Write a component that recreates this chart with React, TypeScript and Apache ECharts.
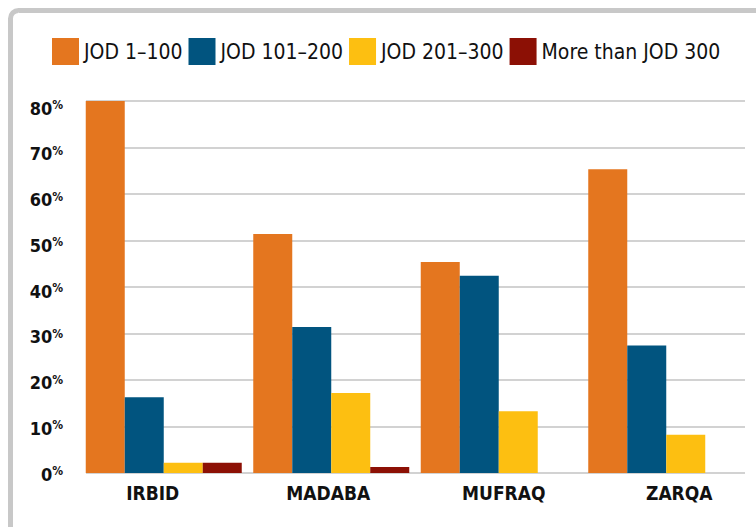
import React, { useEffect, useRef } from "react";
import * as echarts from "echarts";

const categories = ["IRBID", "MADABA", "MUFRAQ", "ZARQA"];
const seriesNames = ["JOD 1–100", "JOD 101–200", "JOD 201–300", "More than JOD 300"];
const jod1to100 = [80.0, 51.4, 45.4, 65.3];
const jod101to200 = [16.3, 31.4, 42.4, 27.4];
const jod201to300 = [2.2, 17.2, 13.3, 8.2];
const jodOver300 = [2.2, 1.3, null, null];
const yTicks = [0, 10, 20, 30, 40, 50, 60, 70, 80];

const colors = ["#E4761F", "#01547F", "#FDBF11", "#8C1005"];

export default function App() {
  const ref = useRef<HTMLDivElement>(null);
  useEffect(() => {
    if (!ref.current) return;
    const chart = echarts.init(ref.current, undefined, { renderer: "svg" });
    const values = [jod1to100, jod101to200, jod201to300, jodOver300];
    const yMax = yTicks[yTicks.length - 1];
    const yInterval = yTicks[1] - yTicks[0];
    const labelPads = [
      [0, 22, 0, 0],
      [0, 6, 0, 0],
      [0, 0, 0, 10],
      [0, 0, 0, 26],
    ];
    const rich: any = {};
    labelPads.forEach((p, i) => {
      rich["c" + i] = {
        padding: p,
        fontFamily: "'DejaVu Sans Condensed', sans-serif",
        fontWeight: "bold",
        fontSize: 19,
        color: "#111",
      };
    });
    chart.setOption({
      animation: false,
      backgroundColor: "#ffffff",
      color: colors,
      graphic: [
        {
          type: "rect",
          shape: { x: 10.5, y: 10.5, width: 820, height: 620, r: 8 },
          style: { fill: null, stroke: "#c8c8c8", lineWidth: 5 },
          z: 10,
        },
      ],
      legend: {
        left: 52,
        top: 38,
        padding: 0,
        itemWidth: 27,
        itemHeight: 27,
        itemGap: 6,
        icon: "rect",
        data: seriesNames,
        textStyle: {
          fontFamily: "'DejaVu Sans Condensed', sans-serif",
          fontSize: 21,
          color: "#111",
        },
      },
      grid: [
        { left: 80, right: 6, top: 101, bottom: 54 },
        { left: 86, right: 11, top: 101, bottom: 54 },
        { left: 70, right: 11, top: 108, height: 366 },
      ],
      xAxis: [
        {
          type: "category",
          gridIndex: 0,
          data: categories,
          axisLine: { show: false },
          axisTick: { show: false },
          axisLabel: {
            margin: 10,
            formatter: (v: string, i: number) => `{c${i}|${v}}`,
            rich,
          },
        },
        { type: "value", gridIndex: 1, show: false },
        { type: "value", gridIndex: 2, show: false },
      ],
      yAxis: [
        {
          type: "value",
          gridIndex: 0,
          min: 0,
          max: yMax,
          interval: yInterval,
          show: false,
        },
        {
          type: "value",
          gridIndex: 1,
          min: 0,
          max: yMax,
          interval: yInterval,
          axisLine: { show: false },
          axisTick: { show: false },
          axisLabel: { show: false },
          splitLine: { show: true, lineStyle: { color: "#d2d2d2", width: 2 } },
        },
        {
          type: "value",
          gridIndex: 2,
          min: 0,
          max: yMax,
          interval: yInterval,
          axisLine: { show: false },
          axisTick: { show: false },
          splitLine: { show: false },
          axisLabel: {
            margin: 7,
            formatter: (v: number) => `{n|${v}}{p|%}`,
            rich: {
              n: {
                fontFamily: "'DejaVu Sans Condensed', sans-serif",
                fontWeight: "bold",
                fontSize: 18,
                lineHeight: 18,
                color: "#111",
              },
              p: {
                fontFamily: "'DejaVu Sans Condensed', sans-serif",
                fontWeight: "bold",
                fontSize: 12,
                lineHeight: 16,
                verticalAlign: "top",
                color: "#111",
              },
            },
          },
        },
      ],
      series: seriesNames.map((name, i) => ({
        name,
        type: "bar",
        xAxisIndex: 0,
        yAxisIndex: 0,
        data: values[i],
        barWidth: 39,
        barGap: "0%",
        itemStyle: { color: colors[i] },
      })),
    });
    return () => chart.dispose();
  }, []);
  return (
    <div
      ref={ref}
      style={{ position: "absolute", left: 0, top: 0, width: 756, height: 527 }}
    />
  );
}
